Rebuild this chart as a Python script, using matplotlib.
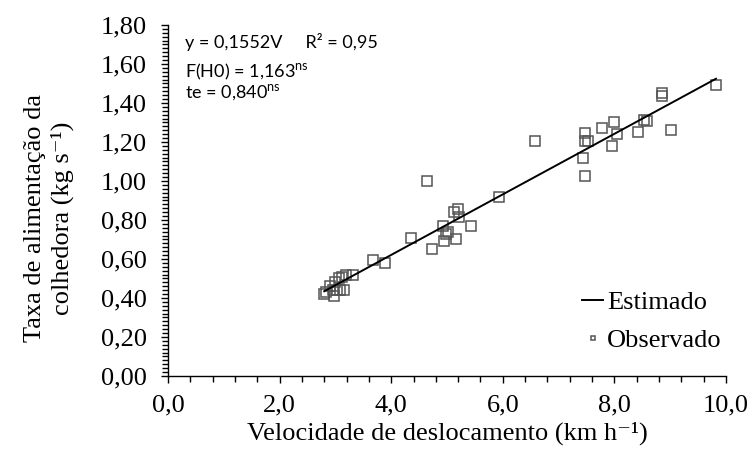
import matplotlib
matplotlib.use("Agg")
import matplotlib.pyplot as plt
from matplotlib.ticker import MultipleLocator, FuncFormatter

# dados
velocidade = [2.80, 2.84, 2.90, 2.97, 2.95, 3.00, 3.03, 3.08, 3.16, 3.12, 3.19, 3.32, 3.06,
              3.68, 3.88, 4.36, 4.64, 4.73, 4.92, 4.95, 5.16, 5.02, 4.99, 5.19, 5.13,
              5.22, 5.43, 5.94, 6.57, 7.47, 7.47, 7.53, 7.44, 7.47, 7.77, 7.99, 8.04,
              7.95, 8.43, 8.53, 8.59, 9.02, 8.86, 8.86, 9.82]
taxa = [0.42, 0.43, 0.46, 0.41, 0.44, 0.48, 0.44, 0.44, 0.44, 0.51, 0.52, 0.52, 0.50,
        0.595, 0.58, 0.71, 1.00, 0.65, 0.77, 0.69, 0.70, 0.74, 0.73, 0.856, 0.84,
        0.817, 0.77, 0.916, 1.207, 1.245, 1.207, 1.207, 1.116, 1.026, 1.27, 1.30, 1.24,
        1.18, 1.25, 1.313, 1.308, 1.26, 1.45, 1.436, 1.49]
coef = 0.1552

x_est = [min(velocidade), max(velocidade)]
y_est = [coef * v for v in x_est]

plt.rcParams['font.family'] = ['Liberation Serif', 'DejaVu Serif']
plt.rcParams['mathtext.fontset'] = 'custom'
plt.rcParams['mathtext.rm'] = 'Lato'

fig = plt.figure(figsize=(7.5, 4.53), dpi=100)
ax = fig.add_axes([0.224, 0.170, 0.744, 0.775])

ax.plot(x_est, y_est, color="black", linewidth=1.4, label="Estimado", zorder=3)
ax.plot(velocidade, taxa, linestyle="none", marker="s", markersize=7,
        markerfacecolor="none", markeredgecolor="#555555", markeredgewidth=1.1,
        label="Observado", zorder=2)

ax.set_xlim(0, 10)
ax.set_ylim(0, 1.8)
ax.xaxis.set_major_locator(MultipleLocator(2))
ax.xaxis.set_minor_locator(MultipleLocator(0.4))
ax.yaxis.set_major_locator(MultipleLocator(0.2))
ax.yaxis.set_minor_locator(MultipleLocator(0.02))
ax.xaxis.set_major_formatter(FuncFormatter(lambda v, p: f"{v:.1f}".replace(".", ",")))
ax.yaxis.set_major_formatter(FuncFormatter(lambda v, p: f"{v:.2f}".replace(".", ",")))
ax.tick_params(which="both", direction="out", labelsize=19, width=1, color="black")
ax.tick_params(which="major", length=5)
ax.tick_params(which="minor", length=4)
ax.tick_params(axis="x", which="major", pad=8)
ax.tick_params(axis="y", which="major", pad=10)

for s in ["top", "right"]:
    ax.spines[s].set_visible(False)
for s in ["left", "bottom"]:
    ax.spines[s].set_linewidth(1)

ax.set_xlabel("Velocidade de deslocamento (km h⁻¹)", fontsize=19, labelpad=4)
ax.set_ylabel("Taxa de alimentação da\ncolhedora (kg s⁻¹)", fontsize=19,
              linespacing=1.25)
ax.yaxis.set_label_coords(-0.168, 0.45)

# equação e estatísticas
fonte_txt = ['Lato', 'DejaVu Sans']
ax.text(0.03, 0.952, "y = 0,1552V     R² = 0,95", transform=ax.transAxes,
        fontsize=13, family=fonte_txt, va="center")
ax.text(0.03, 0.866, "F(H0) = 1,163$^{\\mathrm{ns}}$", transform=ax.transAxes,
        fontsize=13, family=fonte_txt, va="center")
ax.text(0.03, 0.806, "te = 0,840$^{\\mathrm{ns}}$", transform=ax.transAxes,
        fontsize=13, family=fonte_txt, va="center")

ax.legend(loc="lower right", bbox_to_anchor=(1.035, 0.0), frameon=False,
          fontsize=19, markerscale=0.5, handlelength=0.8, handletextpad=0.15,
          labelspacing=0.55)

fig.savefig("out.png", dpi=100)
